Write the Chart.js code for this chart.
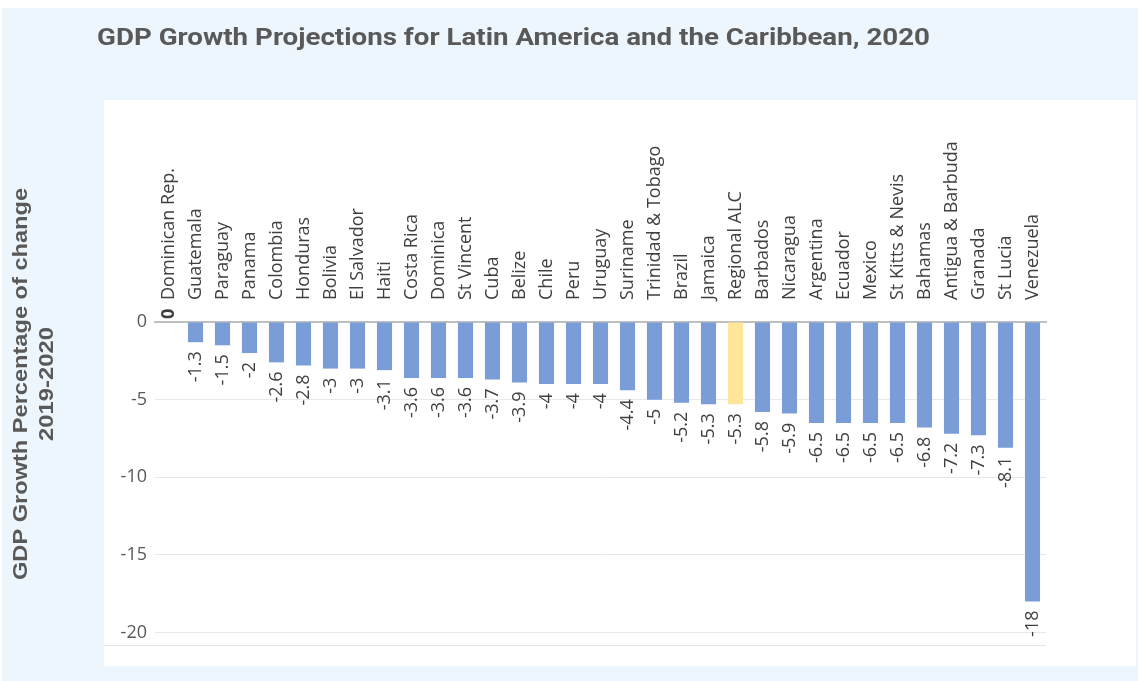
<!DOCTYPE html>
<html>
<head>
<meta charset="utf-8">
<script src="https://cdn.jsdelivr.net/npm/chart.js@4.4.1/dist/chart.umd.min.js"></script>
<style>
  html, body { margin: 0; padding: 0; background: #ffffff; }
  #wrap { width: 1142px; height: 681px; position: relative; }
</style>
</head>
<body>
<div id="wrap"><canvas id="gdpChart" width="1142" height="681"></canvas></div>
<script>
// GDP growth projections, 2020 (% change 2019-2020)
const countries = [
    'Dominican Rep.', 'Guatemala', 'Paraguay', 'Panama', 'Colombia', 'Honduras',
    'Bolivia', 'El Salvador', 'Haiti', 'Costa Rica', 'Dominica', 'St Vincent',
    'Cuba', 'Belize', 'Chile', 'Peru', 'Uruguay', 'Suriname', 'Trinidad & Tobago',
    'Brazil', 'Jamaica', 'Regional ALC', 'Barbados', 'Nicaragua', 'Argentina',
    'Ecuador', 'Mexico', 'St Kitts & Nevis', 'Bahamas', 'Antigua & Barbuda',
    'Granada', 'St Lucia', 'Venezuela'
];
const growth = [
    0, -1.3, -1.5, -2, -2.6, -2.8,
    -3, -3, -3.1, -3.6, -3.6, -3.6,
    -3.7, -3.9, -4, -4, -4, -4.4, -5,
    -5.2, -5.3, -5.3, -5.8, -5.9, -6.5,
    -6.5, -6.5, -6.5, -6.8, -7.2,
    -7.3, -8.1, -18
];
const yTicks = [-20, -15, -10, -5, 0];
const highlighted = 'Regional ALC';

const titleText = 'GDP Growth Projections for Latin America and the Caribbean, 2020';
const yTitleLines = ['GDP Growth Percentage of change', '2019-2020'];

const BLUE = '#7a9dd8';
const YELLOW = '#ffe699';
const TEXT = '#404040';
const labelFont = "'Open Sans', sans-serif";
const labelSize = 18;

// draw text stretched along its own direction so it spans a given length
function fillStretched(ctx, text, x, y, length) {
    const w = ctx.measureText(text).width;
    ctx.save();
    ctx.translate(x, y);
    ctx.scale(length / w, 1);
    ctx.fillText(text, 0, 0);
    ctx.restore();
}

// Background panels, title and rotated axis title
const frame = {
    id: 'frame',
    beforeDraw(chart) {
        const ctx = chart.ctx;
        ctx.save();
        ctx.fillStyle = '#eef6fd';
        ctx.fillRect(2, 8, 1136, 673);
        ctx.fillStyle = '#ffffff';
        ctx.fillRect(104, 100, 1032, 566);

        ctx.fillStyle = '#595959';
        ctx.font = "bold 23px 'Roboto', sans-serif";
        ctx.textBaseline = 'alphabetic';
        ctx.textAlign = 'left';
        fillStretched(ctx, titleText, 97, 45, 833);

        ctx.font = "bold 20px 'Liberation Sans', Arial, sans-serif";
        ctx.textAlign = 'center';
        ctx.translate(0, 384);
        ctx.rotate(-Math.PI / 2);
        fillStretched(ctx, yTitleLines[0], 0, 27, 392);
        fillStretched(ctx, yTitleLines[1], 0, 53, 114);
        ctx.restore();

        // faint plot-area bottom line
        const a = chart.chartArea;
        ctx.save();
        ctx.strokeStyle = '#e6e6e6';
        ctx.lineWidth = 1;
        ctx.beginPath();
        ctx.moveTo(104, Math.round(a.bottom) + 0.5);
        ctx.lineTo(a.right, Math.round(a.bottom) + 0.5);
        ctx.stroke();
        ctx.restore();
    }
};

// Value labels, rotated, under each bar
const valueLabels = {
    id: 'valueLabels',
    afterDatasetsDraw(chart) {
        const ctx = chart.ctx;
        const meta = chart.getDatasetMeta(0);
        ctx.save();
        ctx.fillStyle = TEXT;
        ctx.font = labelSize + 'px ' + labelFont;
        ctx.textBaseline = 'middle';
        meta.data.forEach((bar, i) => {
            const v = growth[i];
            ctx.save();
            if (v < 0) {
                ctx.translate(bar.x, bar.y + 9);
                ctx.rotate(-Math.PI / 2);
                ctx.textAlign = 'right';
            } else {
                ctx.translate(bar.x, bar.y - 3);
                ctx.rotate(-Math.PI / 2);
                ctx.textAlign = 'left';
                ctx.font = 'bold ' + labelSize + 'px ' + labelFont;
            }
            ctx.fillText(String(v), 0, 0);
            ctx.restore();
        });
        ctx.restore();
    }
};

new Chart(document.getElementById('gdpChart'), {
    type: 'bar',
    data: {
        labels: countries,
        datasets: [{
            data: growth,
            backgroundColor: countries.map(c => c === highlighted ? YELLOW : BLUE),
            borderWidth: 0,
            barPercentage: 0.56,
            categoryPercentage: 1
        }]
    },
    options: {
        responsive: false,
        animation: false,
        layout: {
            padding: { top: 100, left: 104, right: 96, bottom: 36 }
        },
        plugins: {
            legend: { display: false },
            tooltip: { enabled: false },
            title: { display: false }
        },
        scales: {
            x: {
                position: 'top',
                grid: { display: false, drawTicks: false },
                border: { display: true, color: '#bfbfbf', width: 2 },
                ticks: {
                    autoSkip: false,
                    minRotation: 90,
                    maxRotation: 90,
                    padding: 22,
                    labelOffset: labelSize * 1.2,
                    color: TEXT,
                    font: { family: labelFont, size: labelSize }
                },
                afterFit(scale) { scale.height = 222; }
            },
            y: {
                min: -20.8,
                max: 0,
                afterBuildTicks(scale) {
                    scale.ticks = yTicks.map(v => ({ value: v }));
                },
                grid: {
                    color: ctx => (ctx.tick && ctx.tick.value === 0) ? 'rgba(0,0,0,0)' : '#e8e8e8',
                    drawTicks: false
                },
                border: { display: false },
                ticks: {
                    padding: 8,
                    color: '#595959',
                    font: { family: labelFont, size: labelSize }
                },
                afterFit(scale) { scale.width = 51; }
            }
        }
    },
    plugins: [frame, valueLabels]
});
</script>
</body>
</html>
